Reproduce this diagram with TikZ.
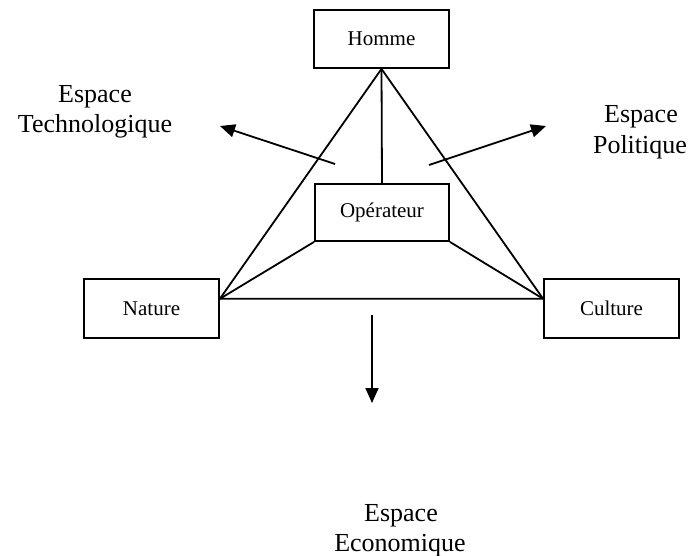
\documentclass[tikz,border=0pt]{standalone}
\usepackage{fontspec}
\setmainfont{Liberation Serif}
\usetikzlibrary{arrows.meta,calc}
\begin{document}
\begin{tikzpicture}[x=1pt,y=-1pt,
  boxnode/.style={draw,line width=1.8pt,minimum width=135pt,minimum height=58pt,inner sep=0pt,font=\fontsize{21}{25}\selectfont},
  lbl/.style={anchor=base,inner sep=0pt,font=\fontsize{26}{31}\selectfont},
  link/.style={line width=1.8pt},
  arr/.style={line width=1.8pt,-{Triangle[length=15pt,width=13pt]}}]
\useasboundingbox (0,0) rectangle (691,556);
\node[boxnode] (homme) at (381.5,39) {Homme};
\node[boxnode,minimum width=134pt,minimum height=57pt] (op) at (382,212.5) {Opérateur};
\node[boxnode,minimum height=59pt] (nat) at (151.5,308.5) {Nature};
\node[boxnode,minimum height=59pt] (cul) at (611.5,308.5) {Culture};
\coordinate (natc) at ($(nat.north east)!0.34!(nat.south east)$);
\coordinate (culc) at ($(cul.north west)!0.34!(cul.south west)$);
\draw[link] (homme.south) -- (natc) -- (culc) -- cycle;
\draw[link] (homme.south) -- (op.north);
\draw[link] (op.south west) -- (natc);
\draw[link] (op.south east) -- (culc);
\coordinate (t0) at (335,164); \coordinate (t1) at (220,126);
\coordinate (p0) at (429,165); \coordinate (p1) at (546,126);
\coordinate (e0) at (372,315); \coordinate (e1) at (372,403);
\draw[arr] (t0) -- (t1);
\draw[arr] (p0) -- (p1);
\draw[arr] (e0) -- (e1);
\node[lbl] (techa) at (95,103) {Espace};
\node[lbl] (techb) at (95,133) {Technologique};
\node[lbl] (pola) at (641,123) {Espace};
\node[lbl] (polb) at (640,154) {Politique};
\node[lbl] (ecoa) at (401,521) {Espace};
\node[lbl] (ecob) at (400,551) {Economique};
\end{tikzpicture}
\end{document}
